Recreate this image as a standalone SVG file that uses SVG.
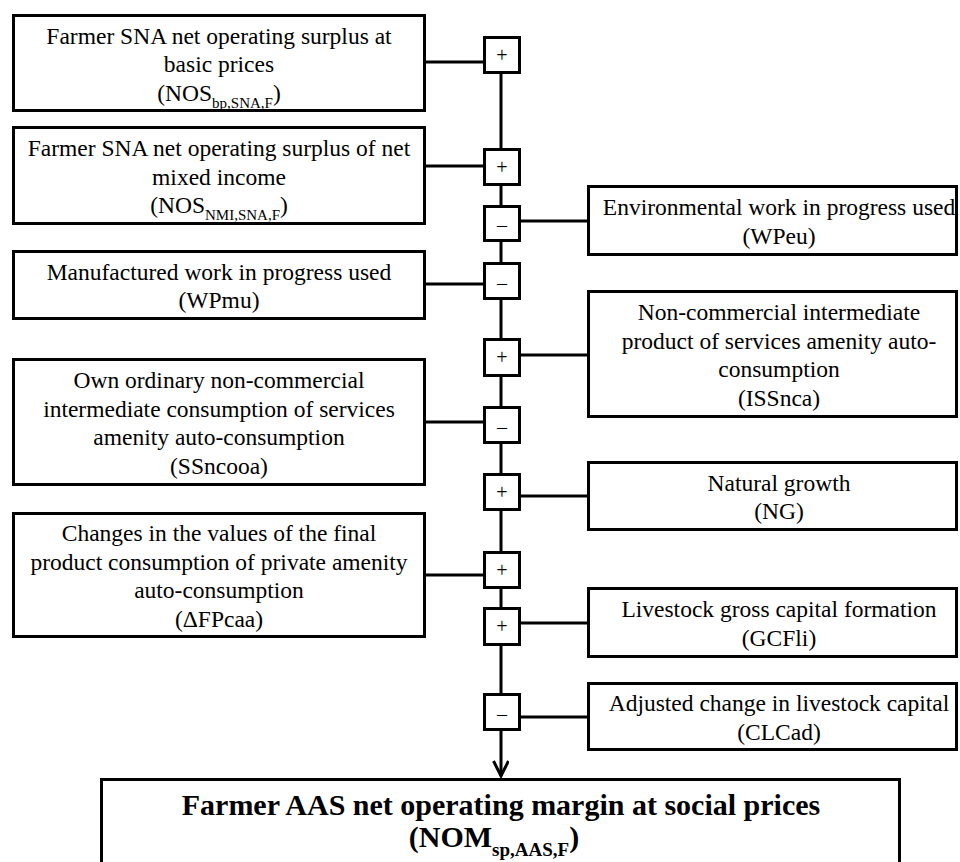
<svg xmlns="http://www.w3.org/2000/svg" width="960" height="862" viewBox="0 0 960 862" font-family="'Liberation Serif', 'Times New Roman', Times, serif">
<style>
.box{fill:#fff;stroke:#000;stroke-width:3}
.sg{fill:#fff;stroke:#000;stroke-width:3}
.conn{stroke:#000;stroke-width:3;fill:none}
text{font-family:'Liberation Serif','Times New Roman',Times,serif}
.t{font-size:23.5px;fill:#000;text-anchor:middle}
.s{font-size:20px;fill:#000;text-anchor:middle}
.b{font-size:30px;font-weight:bold;fill:#000;text-anchor:middle}
.sub{font-size:15px}
.subb{font-size:19px}
</style>
<defs>
<marker id="arr" markerWidth="20" markerHeight="20" refX="16" refY="8" orient="auto" markerUnits="userSpaceOnUse">
<path d="M1,0.5 L16,8 L1,15.5" fill="none" stroke="#000" stroke-width="3"/>
</marker>
</defs>
<rect width="960" height="862" fill="#fff"/>

<g id="connectors">
<line class="conn" x1="501" y1="74" x2="501" y2="776" marker-end="url(#arr)"/>
<line class="conn" x1="426" y1="62" x2="484" y2="62"/>
<line class="conn" x1="426" y1="166" x2="484" y2="166"/>
<line class="conn" x1="519" y1="221" x2="587" y2="221"/>
<line class="conn" x1="426" y1="284" x2="484" y2="284"/>
<line class="conn" x1="519" y1="355" x2="587" y2="355"/>
<line class="conn" x1="426" y1="422" x2="484" y2="422"/>
<line class="conn" x1="519" y1="496" x2="587" y2="496"/>
<line class="conn" x1="426" y1="575" x2="484" y2="575"/>
<line class="conn" x1="519" y1="623" x2="587" y2="623"/>
<line class="conn" x1="519" y1="717" x2="587" y2="717"/>
</g>

<g id="s1"><rect class="sg" x="484.5" y="37.5" width="35" height="35"/><text class="s" x="502" y="62">+</text></g>
<g id="s2"><rect class="sg" x="484.5" y="149.5" width="35" height="35"/><text class="s" x="502" y="174">+</text></g>
<g id="s3"><rect class="sg" x="484.5" y="206.5" width="35" height="34"/><text class="s" x="502" y="232">–</text></g>
<g id="s4"><rect class="sg" x="484.5" y="263.5" width="35" height="35"/><text class="s" x="502" y="290">–</text></g>
<g id="s5"><rect class="sg" x="484.5" y="339.5" width="35" height="36"/><text class="s" x="502" y="364">+</text></g>
<g id="s6"><rect class="sg" x="484.5" y="407.5" width="35" height="35"/><text class="s" x="502" y="434">–</text></g>
<g id="s7"><rect class="sg" x="484.5" y="474.5" width="35" height="35"/><text class="s" x="502" y="499">+</text></g>
<g id="s8"><rect class="sg" x="484.5" y="552.5" width="35" height="35"/><text class="s" x="502" y="577">+</text></g>
<g id="s9"><rect class="sg" x="484.5" y="608.5" width="35" height="36"/><text class="s" x="502" y="633">+</text></g>
<g id="s10"><rect class="sg" x="484.5" y="694.5" width="35" height="35"/><text class="s" x="502" y="721">–</text></g>

<g id="nos-bp">
<rect class="box" x="13.5" y="15.5" width="411" height="95"/>
<text class="t" x="219" y="43.5">Farmer SNA net operating surplus at</text>
<text class="t" x="219" y="72">basic prices</text>
<text class="t" x="219" y="100.5">(NOS<tspan class="sub" dy="7">bp,SNA,F</tspan><tspan dy="-7">)</tspan></text>
</g>

<g id="nos-nmi">
<rect class="box" x="13.5" y="127.5" width="411" height="96"/>
<text class="t" x="219" y="156">Farmer SNA net operating surplus of net</text>
<text class="t" x="219" y="184.5">mixed income</text>
<text class="t" x="219" y="213">(NOS<tspan class="sub" dy="7">NMI,SNA,F</tspan><tspan dy="-7">)</tspan></text>
</g>

<g id="wpmu">
<rect class="box" x="13.5" y="251.5" width="411" height="67"/>
<text class="t" x="219" y="279.75">Manufactured work in progress used</text>
<text class="t" x="219" y="308.25">(WPmu)</text>
</g>

<g id="ssncooa">
<rect class="box" x="13.5" y="359.5" width="411" height="125"/>
<text class="t" x="219" y="388.25">Own ordinary non-commercial</text>
<text class="t" x="219" y="416.75">intermediate consumption of  services</text>
<text class="t" x="219" y="445.25">amenity auto-consumption</text>
<text class="t" x="219" y="473.75">(SSncooa)</text>
</g>

<g id="dfpcaa">
<rect class="box" x="13.5" y="513.5" width="411" height="123"/>
<text class="t" x="219" y="541.25">Changes in the values of the final</text>
<text class="t" x="219" y="569.75">product consumption of private amenity</text>
<text class="t" x="219" y="598.25">auto-consumption</text>
<text class="t" x="219" y="626.75">(ΔFPcaa)</text>
</g>

<g id="wpeu">
<rect class="box" x="588.5" y="186.5" width="368" height="68"/>
<text class="t" x="779" y="215.25">Environmental work in progress used</text>
<text class="t" x="779" y="243.75">(WPeu)</text>
</g>

<g id="issnca">
<rect class="box" x="588.5" y="291.5" width="368" height="125"/>
<text class="t" x="779" y="320.25">Non-commercial intermediate</text>
<text class="t" x="779" y="348.75">product of services amenity auto-</text>
<text class="t" x="779" y="377.25">consumption</text>
<text class="t" x="779" y="405.75">(ISSnca)</text>
</g>

<g id="ng">
<rect class="box" x="588.5" y="462.5" width="368" height="67"/>
<text class="t" x="779" y="490.75">Natural growth</text>
<text class="t" x="779" y="519.25">(NG)</text>
</g>

<g id="gcfli">
<rect class="box" x="588.5" y="588.5" width="368" height="68"/>
<text class="t" x="779" y="617.25">Livestock gross capital formation</text>
<text class="t" x="779" y="645.75">(GCFli)</text>
</g>

<g id="clcad">
<rect class="box" x="588.5" y="683.5" width="368" height="66"/>
<text class="t" x="779" y="711.25">Adjusted change in livestock capital</text>
<text class="t" x="779" y="739.75">(CLCad)</text>
</g>

<g id="nom">
<rect class="box" x="101.5" y="779.5" width="798" height="100"/>
<text class="b" x="501" y="815">Farmer AAS net operating margin at social prices</text>
<text class="b" x="494" y="847">(NOM<tspan class="subb" dy="9">sp,AAS,F</tspan><tspan dy="-9">)</tspan></text>
</g>
</svg>
